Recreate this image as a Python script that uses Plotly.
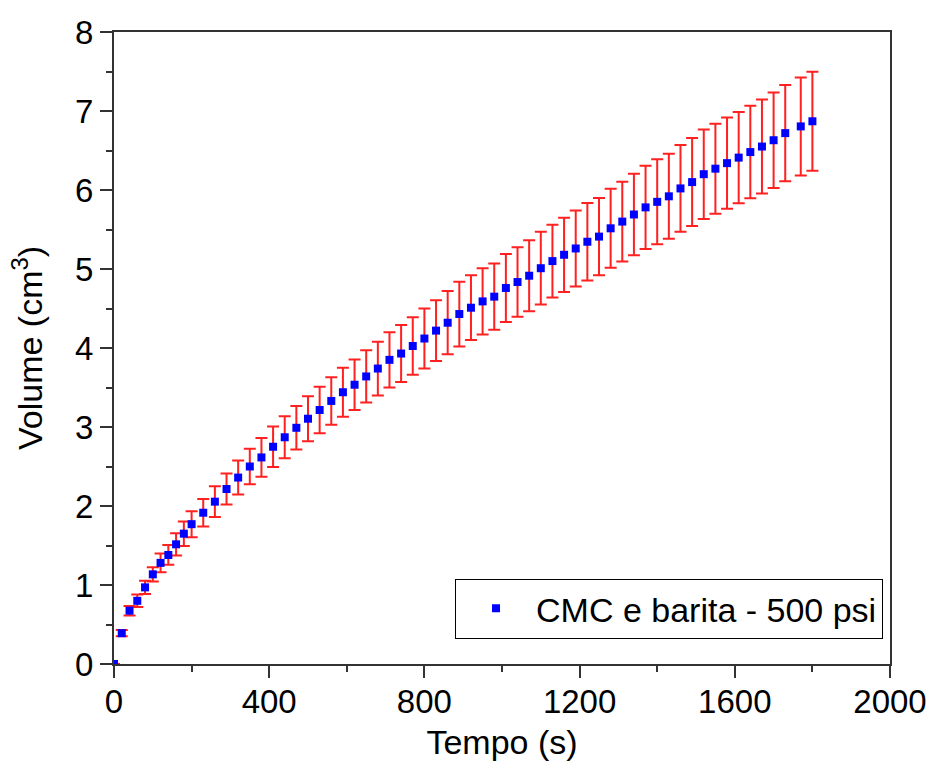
import plotly.graph_objects as go

tempo = [0, 20, 40, 60, 80, 100, 120, 140, 160, 180, 200,
         230, 260, 290, 320, 350, 380, 410, 440, 470, 500,
         530, 560, 590, 620, 650, 680, 710, 740, 770, 800,
         830, 860, 890, 920, 950, 980, 1010, 1040, 1070, 1100,
         1130, 1160, 1190, 1220, 1250, 1280, 1310, 1340, 1370, 1400,
         1430, 1460, 1490, 1520, 1550, 1580, 1610, 1640, 1670, 1700,
         1730, 1770, 1800]
volume = [0.0, 0.39, 0.675, 0.80, 0.97, 1.135, 1.28, 1.38, 1.515, 1.65, 1.77,
          1.915, 2.055, 2.215, 2.36, 2.50, 2.615, 2.75, 2.87, 2.99, 3.105,
          3.215, 3.33, 3.44, 3.535, 3.64, 3.74, 3.85, 3.93, 4.025, 4.12,
          4.22, 4.32, 4.43, 4.51, 4.59, 4.65, 4.76, 4.835, 4.915, 5.01,
          5.10, 5.18, 5.26, 5.345, 5.41, 5.515, 5.60, 5.69, 5.78, 5.85,
          5.92, 6.02, 6.10, 6.20, 6.27, 6.34, 6.41, 6.48, 6.55, 6.63,
          6.72, 6.805, 6.87]
erro = [0.0, 0.04, 0.06, 0.08, 0.085, 0.09, 0.12, 0.125, 0.14, 0.155, 0.165,
        0.175, 0.195, 0.196, 0.215, 0.225, 0.245, 0.255, 0.265, 0.275, 0.285,
        0.295, 0.30, 0.31, 0.32, 0.33, 0.34, 0.35, 0.36, 0.365, 0.38,
        0.385, 0.40, 0.41, 0.41, 0.42, 0.42, 0.43, 0.44, 0.45, 0.46,
        0.46, 0.47, 0.48, 0.49, 0.49, 0.50, 0.505, 0.517, 0.527, 0.538,
        0.538, 0.55, 0.557, 0.566, 0.57, 0.578, 0.578, 0.586, 0.595, 0.605,
        0.61, 0.62, 0.627]

x_ticks = [0, 400, 800, 1200, 1600, 2000]
y_ticks = [0, 1, 2, 3, 4, 5, 6, 7, 8]

FONT = "Liberation Sans, Arial, sans-serif"

fig = go.Figure()
fig.add_trace(go.Scatter(
    x=tempo, y=volume, mode="markers",
    name="CMC e barita - 500 psi",
    marker=dict(symbol="square", size=8, color="#0000ff"),
    error_y=dict(type="data", array=erro, visible=True,
                 color="#ff2020", thickness=2, width=6),
))

axis_common = dict(
    showline=True, linewidth=2, linecolor="#333333", mirror=True,
    ticks="outside", ticklen=12, tickwidth=2, tickcolor="#333333",
    showgrid=False, zeroline=False, automargin=False,
    tickfont=dict(family=FONT, size=33, color="black"),
    title_font=dict(family=FONT, size=34, color="black"),
)

fig.update_xaxes(
    range=[0, 2000], tickvals=x_ticks, ticktext=[str(v) for v in x_ticks],
    minor=dict(ticks="outside", ticklen=6, tickwidth=2, tickcolor="#333333", dtick=200),
    ticklabelstandoff=-5,
    title_text="Tempo (s)", title_standoff=12,
    **axis_common,
)
fig.update_yaxes(
    range=[0, 8], tickvals=y_ticks, ticktext=[str(v) for v in y_ticks],
    minor=dict(ticks="outside", ticklen=6, tickwidth=2, tickcolor="#333333", dtick=0.5),
    title_text="Volume (cm<sup>3</sup>)", title_standoff=22,
    **axis_common,
)

fig.update_layout(
    width=928, height=762,
    margin=dict(l=114, r=38, t=32, b=98),
    plot_bgcolor="white", paper_bgcolor="white",
    showlegend=True,
    legend=dict(
        x=0.991, y=0.04, xanchor="right", yanchor="bottom",
        bordercolor="black", borderwidth=1, bgcolor="white",
        font=dict(family=FONT, size=34, color="black"),
        itemwidth=70,
    ),
)

fig.write_html("out.html")
